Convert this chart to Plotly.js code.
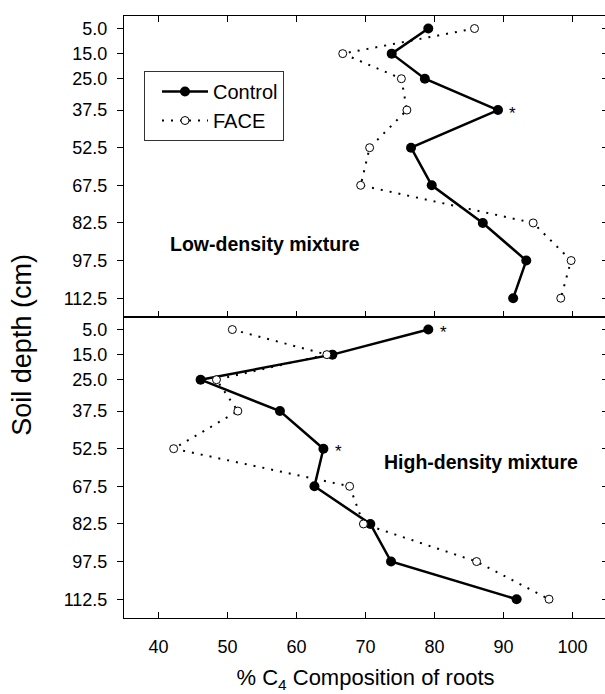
<!DOCTYPE html>
<html>
<head>
<meta charset="utf-8">
<script src="https://cdn.plot.ly/plotly-3.0.1.min.js"></script>
<style>
  html, body { margin: 0; padding: 0; background: #fff; overflow: hidden; }
  #chart { width: 608px; height: 694px; }
</style>
</head>
<body>
<div id="chart"></div>
<script>
// ---- data ----
const depths = [5, 15, 25, 37.5, 52.5, 67.5, 82.5, 97.5, 112.5];
const depthLabels = ['5.0', '15.0', '25.0', '37.5', '52.5', '67.5', '82.5', '97.5', '112.5'];
const lowControl  = [79.1, 73.8, 78.6, 89.2, 76.6, 79.6, 87.0, 93.3, 91.4];
const lowFACE     = [85.8, 66.7, 75.2, 76.0, 70.6, 69.3, 94.3, 99.8, 98.3];
const highControl = [79.1, 65.2, 46.1, 57.6, 63.9, 62.6, 70.7, 73.7, 91.9];
const highFACE    = [50.7, 64.4, 48.4, 51.5, 42.2, 67.7, 69.7, 86.1, 96.6];
const xTicks = [40, 50, 60, 70, 80, 90, 100];
const seriesNames = ['Control', 'FACE'];
const panelLabels = ['Low-density mixture', 'High-density mixture'];
const xTitle = '%&nbsp;C<sub>4</sub> Composition of roots';
const yTitle = 'Soil depth (cm)';
// significant differences (index into depths) per panel
const lowSig = [3];
const highSig = [0, 4];

const FONT = '"Liberation Sans", Arial, Helvetica, sans-serif';

const controlStyle = {
  mode: 'lines+markers',
  line: { color: '#000', width: 2.5 },
  marker: { symbol: 'circle', size: 10, color: '#000' }
};
const faceStyle = {
  mode: 'lines+markers',
  line: { color: '#000', width: 2, dash: '2px,7px' },
  marker: { symbol: 'circle', size: 8, color: '#fff', line: { color: '#000', width: 1 } }
};

const traces = [
  Object.assign({ x: lowControl, y: depths, xaxis: 'x2', yaxis: 'y', name: seriesNames[0], showlegend: true }, controlStyle),
  Object.assign({ x: lowFACE, y: depths, xaxis: 'x2', yaxis: 'y3', name: seriesNames[1], showlegend: true }, faceStyle),
  Object.assign({ x: highControl, y: depths, xaxis: 'x', yaxis: 'y2', name: seriesNames[0], showlegend: false }, controlStyle),
  Object.assign({ x: highFACE, y: depths, xaxis: 'x', yaxis: 'y4', name: seriesNames[1], showlegend: false }, faceStyle)
];

const xBase = {
  range: [35, 105],
  tickmode: 'array',
  tickvals: xTicks,
  ticks: 'inside',
  ticklen: 6,
  tickwidth: 1,
  tickcolor: '#000',
  showline: true,
  linecolor: '#000',
  linewidth: 1,
  showgrid: false,
  zeroline: false,
  tickfont: { family: FONT, size: 18, color: '#000' }
};
const yLeft = {
  range: [120, 0],
  tickmode: 'array',
  tickvals: depths,
  ticktext: depthLabels,
  ticks: 'outside',
  ticklen: 6,
  tickwidth: 1,
  tickcolor: '#000',
  showline: true,
  linecolor: '#000',
  linewidth: 1,
  mirror: true,
  showgrid: false,
  zeroline: false,
  ticklabelstandoff: 6,
  tickfont: { family: FONT, size: 18, color: '#000' }
};
const yRight = {
  range: [120, 0],
  tickmode: 'array',
  tickvals: depths,
  ticks: 'inside',
  ticklen: 5,
  tickwidth: 1,
  tickcolor: '#000',
  showline: false,
  showgrid: false,
  zeroline: false,
  showticklabels: false,
  side: 'right'
};

function starAnnotations(xs, sig, xref, yref) {
  return sig.map(i => ({
    x: xs[i], y: depths[i], xref: xref, yref: yref,
    text: '*', showarrow: false, xshift: 15, yshift: -3,
    font: { family: FONT, size: 17, color: '#000' }
  }));
}

const layout = {
  width: 608,
  height: 694,
  margin: { l: 124, r: 1, t: 16, b: 76 },
  paper_bgcolor: '#fff',
  plot_bgcolor: '#fff',
  font: { family: FONT, color: '#000' },
  showlegend: true,
  legend: {
    x: 0.0414, y: 0.9086, xanchor: 'left', yanchor: 'top',
    bgcolor: '#fff', bordercolor: '#333', borderwidth: 1,
    font: { family: FONT, size: 20, color: '#000' },
    indentation: 12,
    itemwidth: 46,
    tracegroupgap: 0
  },
  xaxis: Object.assign({}, xBase, {
    anchor: 'y2', domain: [0, 1], mirror: true,
    ticklabelstandoff: 12,
    title: { text: xTitle, font: { family: FONT, size: 22, color: '#000' }, standoff: 14 }
  }),
  xaxis2: Object.assign({}, xBase, {
    anchor: 'y', domain: [0, 1], matches: 'x', mirror: 'ticks', showticklabels: false
  }),
  yaxis: Object.assign({}, yLeft, { domain: [0.5, 1], anchor: 'x2' }),
  yaxis3: Object.assign({}, yRight, { overlaying: 'y', anchor: 'x2' }),
  yaxis2: Object.assign({}, yLeft, { domain: [0, 0.5], anchor: 'x' }),
  yaxis4: Object.assign({}, yRight, { overlaying: 'y2', anchor: 'x' }),
  annotations: [
    { x: 41.4, y: 91, xref: 'x2', yref: 'y', xanchor: 'left', yanchor: 'middle',
      text: '<b>' + panelLabels[0] + '</b>', showarrow: false,
      font: { family: FONT, size: 19.5, color: '#000' } },
    { x: 72.4, y: 57.9, xref: 'x', yref: 'y2', xanchor: 'left', yanchor: 'middle',
      text: '<b>' + panelLabels[1] + '</b>', showarrow: false,
      font: { family: FONT, size: 19.5, color: '#000' } },
    { x: -0.2118, y: 0.4535, xref: 'paper', yref: 'paper', xanchor: 'center', yanchor: 'middle',
      text: yTitle, textangle: -90, showarrow: false,
      font: { family: FONT, size: 27, color: '#000' } }
  ].concat(starAnnotations(lowControl, lowSig, 'x2', 'y'))
   .concat(starAnnotations(highControl, highSig, 'x', 'y2'))
};

Plotly.newPlot('chart', traces, layout, { displayModeBar: false, staticPlot: true });
</script>
</body>
</html>
